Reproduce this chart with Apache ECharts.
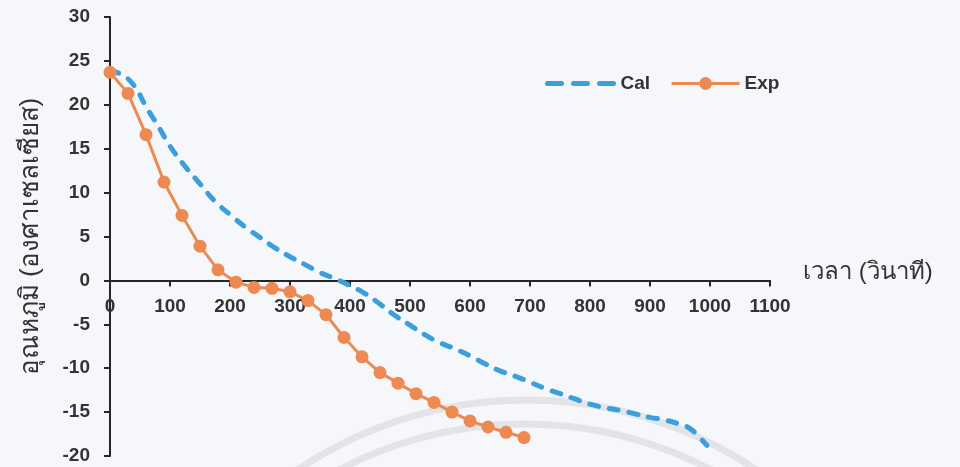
<!DOCTYPE html>
<html>
<head>
<meta charset="utf-8">
<script src="https://cdn.jsdelivr.net/npm/echarts@6/dist/echarts.min.js"></script>
<style>
html,body{margin:0;padding:0;background:#f6f7fa;}
#c{width:960px;height:467px;}
</style>
</head>
<body>
<div id="c"></div>
<script>
// Data
const calTime = [0, 20, 40, 60, 80, 100, 125, 150, 175, 200, 225, 250, 275, 300, 325, 350, 375, 400, 425, 450, 475, 500, 525, 550, 575, 600, 625, 650, 675, 700, 725, 750, 775, 800, 825, 850, 875, 900, 925, 950, 965, 980, 995];
const calTemp = [23.9, 23.4, 22.2, 19.8, 17.6, 15.3, 13.0, 11.0, 9.0, 7.5, 6.1, 4.9, 3.7, 2.7, 1.8, 0.9, 0.2, -0.6, -1.5, -2.7, -4.0, -5.1, -6.2, -7.1, -7.8, -8.6, -9.5, -10.3, -10.9, -11.6, -12.3, -12.9, -13.5, -14.1, -14.5, -14.8, -15.2, -15.6, -15.9, -16.4, -16.8, -17.7, -18.8];
const expTime = [0, 30, 60, 90, 120, 150, 180, 210, 240, 270, 300, 330, 360, 390, 420, 450, 480, 510, 540, 570, 600, 630, 660, 690];
const expTemp = [23.7, 21.3, 16.6, 11.2, 7.4, 3.9, 1.2, -0.2, -0.8, -0.9, -1.3, -2.3, -3.9, -6.5, -8.7, -10.5, -11.7, -12.9, -13.9, -15.0, -16.0, -16.7, -17.3, -17.9];
const seriesNames = ['Cal', 'Exp'];
const xAxisName = 'เวลา (วินาที)';
const yAxisName = 'อุณหภูมิ (องศาเซลเซียส)';
const xMin = 0, xMax = 1100, xStep = 100;
const yMin = -20, yMax = 30, yStep = 5;

const W = 960, H = 467;
const gridTop = 17, gridBottom = 11, gridLeft = 110, gridRight = 190;
const plotH = H - gridTop - gridBottom;
// put the x axis where y = 0
const xAxisOffset = -plotH * (0 - yMin) / (yMax - yMin);

const chart = echarts.init(document.getElementById('c'), null, {renderer: 'canvas'});
const txt = '#333333';
const axisCol = '#262626';
const fontFam = 'Liberation Sans, Noto Sans, sans-serif';

chart.setOption({
  backgroundColor: '#f6f7fa',
  animation: false,
  grid: {left: gridLeft, right: gridRight, top: gridTop, bottom: gridBottom, containLabel: false, outerBoundsMode: 'none'},
  legend: {
    left: 540, top: 69,
    itemWidth: 68, itemHeight: 16, itemGap: 20,
    textStyle: {color: txt, fontSize: 19, fontWeight: 'bold', fontFamily: fontFam},
    data: [
      {name: seriesNames[0], itemStyle: {opacity: 0}, lineStyle: {type: [14, 12], width: 5, cap: 'round'}},
      {name: seriesNames[1], lineStyle: {width: 3}}
    ]
  },
  xAxis: {
    type: 'value', min: xMin, max: xMax, interval: xStep,
    offset: xAxisOffset,
    name: xAxisName, nameLocation: 'end', nameGap: 33,
    nameTextStyle: {color: txt, fontSize: 24, fontFamily: fontFam, verticalAlign: 'bottom', lineHeight: 16},
    axisLine: {onZero: false, lineStyle: {color: axisCol, width: 2}},
    axisTick: {show: true, length: 6, lineStyle: {color: axisCol, width: 2}},
    axisLabel: {color: txt, fontSize: 19, fontWeight: 'bold', fontFamily: fontFam, margin: 17, showMinLabel: true, showMaxLabel: true, formatter: v => String(v)},
    splitLine: {show: false}
  },
  yAxis: {
    type: 'value', min: yMin, max: yMax, interval: yStep,
    name: yAxisName, nameLocation: 'middle', nameGap: 66, nameRotate: 90,
    nameTextStyle: {color: txt, fontSize: 26, fontFamily: fontFam},
    axisLine: {show: true, onZero: false, lineStyle: {color: axisCol, width: 2}},
    axisTick: {show: true, length: 6, lineStyle: {color: axisCol, width: 2}},
    axisLabel: {color: txt, fontSize: 19, fontWeight: 'bold', fontFamily: fontFam, margin: 20, formatter: v => String(v)},
    splitLine: {show: false}
  },
  graphic: [
    {type: 'circle', z: 0, silent: true, shape: {cx: 527, cy: 811, r: 411}, style: {fill: 'none', stroke: '#e3e4e7', lineWidth: 7}},
    {type: 'circle', z: 0, silent: true, shape: {cx: 525, cy: 824, r: 400}, style: {fill: 'none', stroke: '#e3e4e7', lineWidth: 7}}
  ],
  series: [
    {
      name: seriesNames[0], type: 'line', smooth: true, showSymbol: false, symbol: 'none',
      data: calTime.map((t, i) => [t, calTemp[i]]),
      lineStyle: {color: '#3b9fdb', width: 5, type: [9, 11], cap: 'round'},
      itemStyle: {color: '#3b9fdb'}, z: 3
    },
    {
      name: seriesNames[1], type: 'line', symbol: 'circle', symbolSize: 13,
      data: expTime.map((t, i) => [t, expTemp[i]]),
      lineStyle: {color: '#ec8a52', width: 3},
      itemStyle: {color: '#ec8a52'}, z: 4
    }
  ]
});
</script>
</body>
</html>
